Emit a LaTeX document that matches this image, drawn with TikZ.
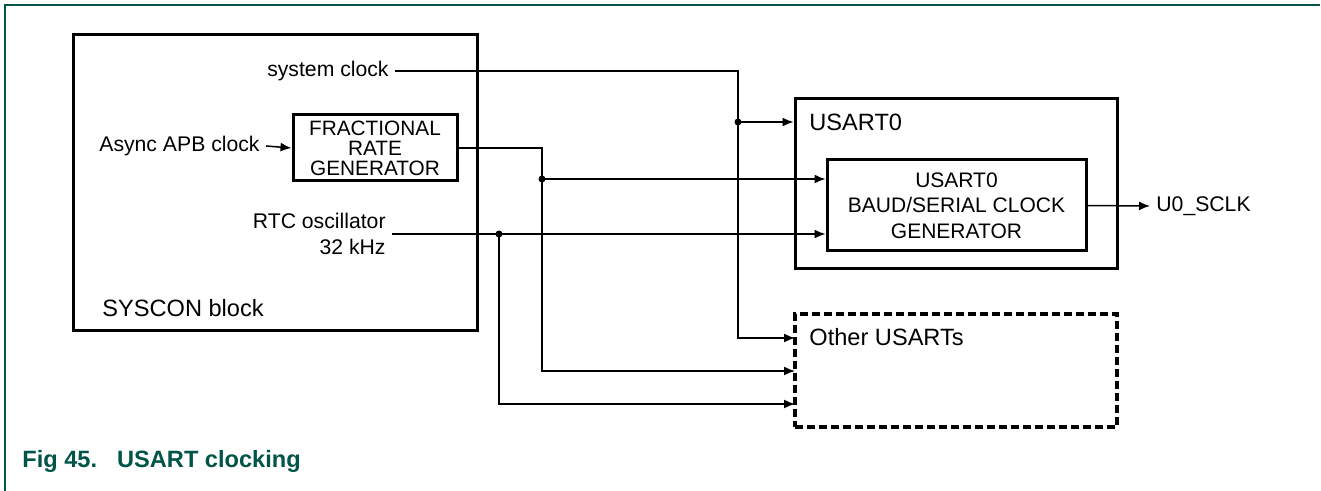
\documentclass[tikz,border=0pt]{standalone}
\usepackage{fontspec}
\setmainfont{Liberation Sans}
\usetikzlibrary{arrows.meta}
\definecolor{nxpgreen}{RGB}{0,84,72}
\begin{document}
\begin{tikzpicture}[x=0.5pt, y=-0.5pt, >={Latex[length=5.5pt,width=4.5pt]},
    blk/.style={draw, line width=1.5pt, inner sep=0pt},
    sig/.style={line width=0.75pt},
    lbl/.style={font=\fontsize{10.6}{12.6}\selectfont, inner sep=0pt, inner xsep=3pt},
    big/.style={font=\fontsize{11.8}{14}\selectfont, inner sep=0pt}]
    \useasboundingbox (0,0) rectangle (1321,491);
    \draw[nxpgreen, line width=0.8pt] (1320,5) -- (5,5) -- (5,491);

    \node[blk, minimum width=202pt, minimum height=148pt] (syscon) at (275,183) {};
    \node[big, anchor=west] (sysconlbl) at (102,308) {SYSCON block};
    \node[blk, minimum width=82pt, minimum height=33pt, align=center,
          font=\fontsize{10.4}{10}\selectfont] (frac) at (375,148) {FRACTIONAL\\RATE\\GENERATOR};

    \node[lbl, anchor=east] (sysclk) at (395,71) {system clock};
    \node[lbl, anchor=east] (apb) at (266,146) {Async APB clock};
    \node[lbl, anchor=east, align=right] (rtc) at (392,234) {RTC oscillator\\32 kHz};

    \node[blk, minimum width=161pt, minimum height=85pt] (usart) at (956,184) {};
    \node[big, anchor=west] (usartlbl) at (809,122) {USART0};
    \node[blk, minimum width=129.5pt, minimum height=45.5pt, align=center,
          font=\fontsize{10.5}{12.7}\selectfont] (baud) at (956.5,205.5) {USART0\\BAUD/SERIAL CLOCK\\GENERATOR};
    \node[lbl, anchor=west] (sclk) at (1150,206) {U0\_SCLK};

    \node[draw, line width=1.6pt, dash pattern=on 4pt off 2pt, inner sep=0pt,
          minimum width=161pt, minimum height=56.5pt] (other) at (956,370.5) {};
    \node[big, anchor=west] (otherlbl) at (809,337) {Other USARTs};

    \coordinate (jsc) at (738,122);
    \coordinate (jfr) at (542,179);
    \coordinate (jrtc) at (499,234);
    \coordinate (o1) at (795,338);
    \coordinate (o2) at (795,371);
    \coordinate (o3) at (795,404);

    \draw[sig, ->] (sysclk.east) -| (jsc) |- (o1);
    \draw[sig, ->] (jsc) -- (usart.west |- jsc);
    \draw[sig, ->] (apb.east) -- (frac.west);
    \draw[sig, ->] (frac.east) -| (jfr) |- (o2);
    \draw[sig, ->] (jfr) -- (baud.west |- jfr);
    \draw[sig, ->] (rtc.east) -- (baud.west |- rtc.east);
    \draw[sig, ->] (jrtc) |- (o3);
    \draw[sig, ->] (baud.east) -- (sclk.west);
    \fill (jsc) circle (1.75pt);
    \fill (jfr) circle (1.75pt);
    \fill (jrtc) circle (1.75pt);

    \node[anchor=west, inner sep=0pt, text=nxpgreen, font=\bfseries\fontsize{11.8}{14}\selectfont]
      (caption) at (22,461) {Fig 45.\hspace{10pt}USART clocking};
\end{tikzpicture}
\end{document}
